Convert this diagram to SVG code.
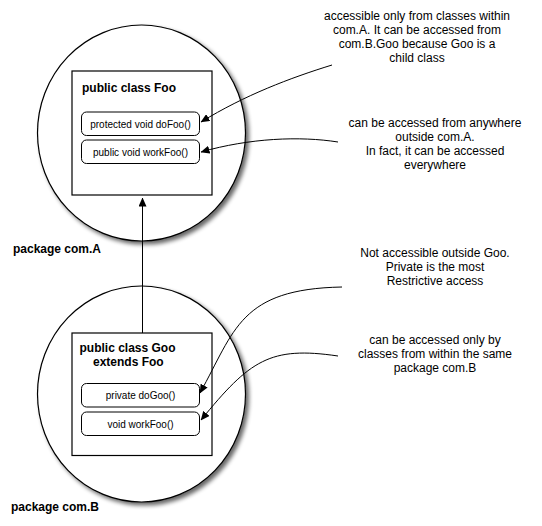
<svg xmlns="http://www.w3.org/2000/svg" width="542" height="526" viewBox="0 0 542 526">
<style>
.pkg{fill:#fff;stroke:#000;stroke-width:1.2}
.cls{fill:#fff;stroke:#000;stroke-width:1.2}
.m{fill:#fff;stroke:#000;stroke-width:1}
.bt{font-family:"Liberation Sans",Arial,sans-serif;font-weight:bold;font-size:12px;fill:#000}
.mt{font-family:"Liberation Sans",Arial,sans-serif;font-size:10px;fill:#000;text-anchor:middle}
.nt{font-family:"Liberation Sans",Arial,sans-serif;font-size:12px;fill:#000;text-anchor:middle}
.c{fill:none;stroke:#000;stroke-width:1}
</style>
<defs>
<filter id="sh" x="-20%" y="-20%" width="140%" height="140%">
<feGaussianBlur in="SourceAlpha" stdDeviation="2"/>
<feOffset dx="3" dy="3" result="b"/>
<feComponentTransfer><feFuncA type="linear" slope="0.6"/></feComponentTransfer>
<feMerge><feMergeNode/><feMergeNode in="SourceGraphic"/></feMerge>
</filter>
<marker id="ah" markerWidth="9" markerHeight="8" refX="8.5" refY="4" orient="auto" markerUnits="userSpaceOnUse">
<path d="M0,0 L9,4 L0,8 Z" fill="#000"/>
</marker>
</defs>
<rect width="542" height="526" fill="#fff"/>
<g id="packageA">
<ellipse class="pkg" cx="141.5" cy="133" rx="104" ry="108" filter="url(#sh)"/>
<text class="bt" x="13" y="253">package com.A</text>
</g>
<g id="packageB">
<ellipse class="pkg" cx="141.5" cy="394" rx="104" ry="108" filter="url(#sh)"/>
<text class="bt" x="11" y="511">package com.B</text>
</g>
<g id="Foo">
<rect class="cls" x="72" y="71" width="140" height="124"/>
<text class="bt" x="82" y="92">public class Foo</text>
<rect class="m" x="81.5" y="112" width="118" height="23.5" rx="5"/>
<text class="mt" x="140.5" y="127.5">protected void doFoo()</text>
<rect class="m" x="81.5" y="140" width="118" height="23.5" rx="5"/>
<text class="mt" x="140.5" y="155.5">public void workFoo()</text>
</g>
<g id="Goo">
<rect class="cls" x="72" y="333" width="140" height="122.5"/>
<text class="bt" x="79.5" y="352">public class Goo</text>
<text class="bt" x="93" y="366">extends Foo</text>
<rect class="m" x="81.5" y="383.5" width="118" height="23.5" rx="5"/>
<text class="mt" x="140.5" y="399">private doGoo()</text>
<rect class="m" x="81.5" y="412" width="118" height="23.5" rx="5"/>
<text class="mt" x="140.5" y="427.5">void workFoo()</text>
</g>
<g id="notes">
<text class="nt" x="417" y="20">accessible only from classes within</text>
<text class="nt" x="417" y="34">com.A. It can be accessed from</text>
<text class="nt" x="417" y="48">com.B.Goo because Goo is a</text>
<text class="nt" x="417" y="62">child class</text>
<text class="nt" x="435" y="127">can be accessed from anywhere</text>
<text class="nt" x="435" y="141">outside com.A.</text>
<text class="nt" x="435" y="155">In fact, it can be accessed</text>
<text class="nt" x="435" y="169">everywhere</text>
<text class="nt" x="435" y="257">Not accessible outside Goo.</text>
<text class="nt" x="435" y="271">Private is the most</text>
<text class="nt" x="435" y="285">Restrictive access</text>
<text class="nt" x="435" y="344">can be accessed only by</text>
<text class="nt" x="435" y="358">classes from within the same</text>
<text class="nt" x="435" y="372">package com.B</text>
</g>
<g id="connectors">
<path class="c" d="M142.5,333 L142.5,198" marker-end="url(#ah)"/>
<path class="c" d="M332,65 C290,78 245,95 201,122" marker-end="url(#ah)"/>
<path class="c" d="M338,142 C300,136 250,138 201,152" marker-end="url(#ah)"/>
<path class="c" d="M342,287 C240,289 235,330 200,393" marker-end="url(#ah)"/>
<path class="c" d="M338,356 C270,346 250,360 201,420" marker-end="url(#ah)"/>
</g>
</svg>
